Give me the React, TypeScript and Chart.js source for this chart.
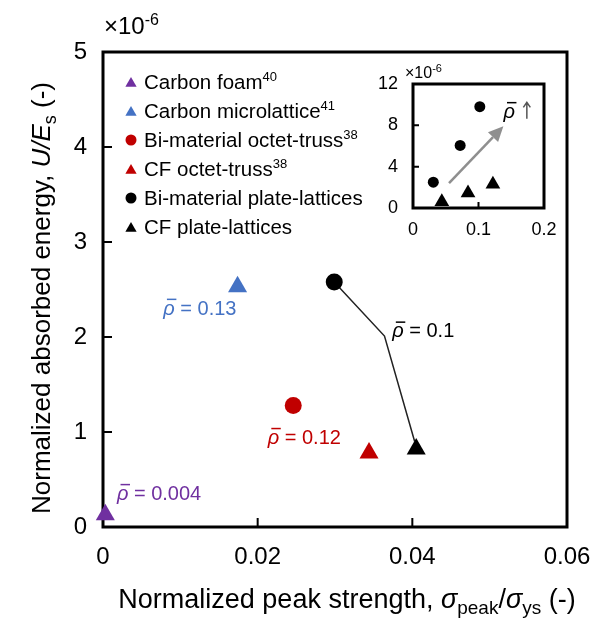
import { useEffect, useRef } from "react";
import { Chart, registerables } from "chart.js";
Chart.register(...registerables);

const FONT = "'Liberation Sans', Arial, 'DejaVu Sans', sans-serif";

// ---- main chart data ----
const SERIES_NAMES = [
  "Carbon foam",
  "Carbon microlattice",
  "Bi-material octet-truss",
  "CF octet-truss",
  "Bi-material plate-lattices",
  "CF plate-lattices",
];
const SERIES_SUPS = ["40", "41", "38", "38", "", ""];
const SERIES_COLORS = ["#7030A0", "#4472C4", "#C00000", "#C00000", "#000000", "#000000"];
const SERIES_STYLES = ["triangle", "triangle", "circle", "triangle", "circle", "triangle"];
const SERIES_X = [0.0003, 0.0174, 0.0246, 0.0344, 0.0299, 0.0405];
const SERIES_Y = [0.13, 2.53, 1.28, 0.78, 2.58, 0.82];

const TREND_X = [0.0299, 0.0364, 0.0403];
const TREND_Y = [2.58, 2.01, 0.9];

const X_TICKS = [0, 0.02, 0.04, 0.06];
const X_TICK_LABELS = ["0", "0.02", "0.04", "0.06"];
const Y_TICKS = [0, 1, 2, 3, 4, 5];
const Y_TICK_LABELS = ["0", "1", "2", "3", "4", "5"];

const NOTE_VALUES = ["0.004", "0.13", "0.12", "0.1"];
const NOTE_X = [0.0018, 0.0078, 0.0213, 0.0374];
const NOTE_Y = [0.36, 2.31, 0.95, 2.07];
const NOTE_COLORS = ["#7030A0", "#4472C4", "#C00000", "#000000"];

// ---- inset data ----
const INSET_CIRCLE_X = [0.031, 0.072, 0.102];
const INSET_CIRCLE_Y = [2.5, 6.06, 9.8];
const INSET_TRI_X = [0.044, 0.084, 0.122];
const INSET_TRI_Y = [0.6, 1.45, 2.3];
const INSET_X_TICKS = [0, 0.1, 0.2];
const INSET_X_TICK_LABELS = ["0", "0.1", "0.2"];
const INSET_Y_TICKS = [0, 4, 8, 12];
const INSET_Y_TICK_LABELS = ["0", "4", "8", "12"];
const ARROW_FROM = [0.055, 2.4];
const ARROW_TO = [0.138, 7.9];
const INSET_NOTE_X = 0.138;
const INSET_NOTE_Y = 9.4;

type Seg = { t: string; sz: number; it?: boolean; dy?: number; bar?: boolean; color?: string };

function segFont(s: Seg) {
  return `${s.it ? "italic " : ""}${s.sz}px ${FONT}`;
}
function richWidth(ctx: CanvasRenderingContext2D, segs: Seg[]) {
  let w = 0;
  for (const s of segs) {
    ctx.font = segFont(s);
    w += ctx.measureText(s.t).width;
  }
  return w;
}
function drawRich(
  ctx: CanvasRenderingContext2D,
  segs: Seg[],
  x: number,
  y: number,
  align: "left" | "center",
  color: string
) {
  let cx = align === "center" ? x - richWidth(ctx, segs) / 2 : x;
  ctx.textAlign = "left";
  ctx.textBaseline = "alphabetic";
  for (const s of segs) {
    ctx.font = segFont(s);
    ctx.fillStyle = s.color || color;
    ctx.fillText(s.t, cx, y + (s.dy || 0));
    const w = ctx.measureText(s.t).width;
    if (s.bar) {
      ctx.save();
      ctx.strokeStyle = s.color || color;
      ctx.lineWidth = 1.5;
      ctx.beginPath();
      const by = y + (s.dy || 0) - 0.76 * s.sz;
      ctx.moveTo(cx + 0.18 * s.sz, by);
      ctx.lineTo(cx + w + 0.08 * s.sz, by);
      ctx.stroke();
      ctx.restore();
    }
    cx += w;
  }
  return cx;
}

function drawMarker(ctx: CanvasRenderingContext2D, style: string, x: number, y: number, r: number, color: string) {
  ctx.fillStyle = color;
  ctx.beginPath();
  if (style === "circle") {
    ctx.arc(x, y, r, 0, Math.PI * 2);
  } else {
    let a = 0;
    ctx.moveTo(x + Math.sin(a) * r, y - Math.cos(a) * r);
    a += (2 * Math.PI) / 3;
    ctx.lineTo(x + Math.sin(a) * r, y - Math.cos(a) * r);
    a += (2 * Math.PI) / 3;
    ctx.lineTo(x + Math.sin(a) * r, y - Math.cos(a) * r);
    ctx.closePath();
  }
  ctx.fill();
}

function boxAndTicks(chart: any, tickLen: number, lw: number) {
  const ctx: CanvasRenderingContext2D = chart.ctx;
  const a = chart.chartArea;
  const xs = chart.scales.x;
  const ys = chart.scales.y;
  ctx.save();
  ctx.strokeStyle = "#000";
  ctx.lineWidth = lw;
  ctx.strokeRect(a.left, a.top, a.right - a.left, a.bottom - a.top);
  ctx.lineWidth = 2;
  ctx.beginPath();
  for (const t of xs.ticks) {
    const px = xs.getPixelForValue(t.value);
    if (Math.abs(px - a.left) < 2 || Math.abs(px - a.right) < 2) continue;
    ctx.moveTo(px, a.bottom);
    ctx.lineTo(px, a.bottom - tickLen);
  }
  for (const t of ys.ticks) {
    const py = ys.getPixelForValue(t.value);
    if (Math.abs(py - a.top) < 2 || Math.abs(py - a.bottom) < 2) continue;
    ctx.moveTo(a.left, py);
    ctx.lineTo(a.left + tickLen, py);
  }
  ctx.stroke();
  ctx.restore();
}

const mainPlugin = {
  id: "mainDecor",
  beforeDatasetsDraw(chart: any) {
    boxAndTicks(chart, 9, 3);
  },
  afterDraw(chart: any) {
    const ctx: CanvasRenderingContext2D = chart.ctx;
    const xs = chart.scales.x;
    const ys = chart.scales.y;
    ctx.save();
    // legend
    for (let i = 0; i < SERIES_NAMES.length; i++) {
      const cy = 82 + 29 * i;
      const style = SERIES_STYLES[i];
      drawMarker(ctx, style, 131, style === "circle" ? cy : cy + 1.5, style === "circle" ? 5.5 : 6.5, SERIES_COLORS[i]);
      const segs: Seg[] = [{ t: SERIES_NAMES[i], sz: 20.5 }];
      if (SERIES_SUPS[i]) segs.push({ t: SERIES_SUPS[i], sz: 13, dy: -8 });
      drawRich(ctx, segs, 144, cy + 7, "left", "#000");
    }
    // density notes
    for (let i = 0; i < NOTE_VALUES.length; i++) {
      const px = xs.getPixelForValue(NOTE_X[i]);
      const py = ys.getPixelForValue(NOTE_Y[i]);
      drawRich(
        ctx,
        [
          { t: "ρ", sz: 20, it: true, bar: true },
          { t: " = " + NOTE_VALUES[i], sz: 20 },
        ],
        px,
        py + 7,
        "left",
        NOTE_COLORS[i]
      );
    }
    // exponent
    drawRich(ctx, [{ t: "×10", sz: 24 }, { t: "-6", sz: 16, dy: -9 }], 104, 34, "left", "#000");
    // x title
    drawRich(
      ctx,
      [
        { t: "Normalized peak strength, ", sz: 27 },
        { t: "σ", sz: 27, it: true },
        { t: "peak", sz: 19, dy: 6 },
        { t: "/", sz: 27 },
        { t: "σ", sz: 27, it: true },
        { t: "ys", sz: 19, dy: 6 },
        { t: " (-)", sz: 27 },
      ],
      347,
      608,
      "center",
      "#000"
    );
    // y title
    ctx.save();
    ctx.translate(50, 298);
    ctx.rotate(-Math.PI / 2);
    drawRich(
      ctx,
      [
        { t: "Normalized absorbed energy, ", sz: 26 },
        { t: "U/E", sz: 26, it: true },
        { t: "s", sz: 18, dy: 6 },
        { t: " (-)", sz: 26 },
      ],
      0,
      0,
      "center",
      "#000"
    );
    ctx.restore();
    ctx.restore();
  },
};

const insetPlugin = {
  id: "insetDecor",
  beforeDatasetsDraw(chart: any) {
    const ctx: CanvasRenderingContext2D = chart.ctx;
    const a = chart.chartArea;
    ctx.save();
    ctx.fillStyle = "#fff";
    ctx.fillRect(a.left, a.top, a.right - a.left, a.bottom - a.top);
    ctx.restore();
    boxAndTicks(chart, 6, 3);
  },
  afterDraw(chart: any) {
    const ctx: CanvasRenderingContext2D = chart.ctx;
    const xs = chart.scales.x;
    const ys = chart.scales.y;
    ctx.save();
    // arrow
    const x1 = xs.getPixelForValue(ARROW_FROM[0]);
    const y1 = ys.getPixelForValue(ARROW_FROM[1]);
    const x2 = xs.getPixelForValue(ARROW_TO[0]);
    const y2 = ys.getPixelForValue(ARROW_TO[1]);
    const ang = Math.atan2(y2 - y1, x2 - x1);
    const head = 15;
    const bx = x2 - Math.cos(ang) * head;
    const by = y2 - Math.sin(ang) * head;
    ctx.strokeStyle = "#8f8f8f";
    ctx.fillStyle = "#8f8f8f";
    ctx.lineWidth = 2.5;
    ctx.beginPath();
    ctx.moveTo(x1, y1);
    ctx.lineTo(bx, by);
    ctx.stroke();
    ctx.beginPath();
    ctx.moveTo(x2, y2);
    ctx.lineTo(bx + Math.sin(ang) * 7, by - Math.cos(ang) * 7);
    ctx.lineTo(bx - Math.sin(ang) * 7, by + Math.cos(ang) * 7);
    ctx.closePath();
    ctx.fill();
    // note: rho-bar with up arrow
    const nx = xs.getPixelForValue(INSET_NOTE_X);
    const ny = ys.getPixelForValue(INSET_NOTE_Y);
    const endX = drawRich(ctx, [{ t: "ρ", sz: 20, it: true, bar: true }], nx, ny + 7, "left", "#000");
    const ax = endX + 12;
    ctx.strokeStyle = "#555";
    ctx.lineWidth = 1.5;
    ctx.beginPath();
    ctx.moveTo(ax, ny + 8);
    ctx.lineTo(ax, ny - 8);
    ctx.moveTo(ax - 3.5, ny - 3.5);
    ctx.lineTo(ax, ny - 8.5);
    ctx.lineTo(ax + 3.5, ny - 3.5);
    ctx.stroke();
    // exponent
    drawRich(ctx, [{ t: "×10", sz: 16 }, { t: "-6", sz: 11, dy: -6 }], 45, 23, "left", "#000");
    ctx.restore();
  },
};

function fixedTicks(values: number[]) {
  return (scale: any) => {
    scale.ticks = values.map((v) => ({ value: v }));
  };
}

export default function App() {
  const mainRef = useRef<HTMLCanvasElement>(null);
  const insetRef = useRef<HTMLCanvasElement>(null);

  useEffect(() => {
    document.body.style.margin = "0";
    const mainDatasets: any[] = SERIES_NAMES.map((name, i) => ({
      type: "scatter",
      label: name,
      data: [{ x: SERIES_X[i], y: SERIES_Y[i] }],
      pointStyle: SERIES_STYLES[i],
      pointRadius: SERIES_STYLES[i] === "circle" ? 8.5 : 11,
      pointBackgroundColor: SERIES_COLORS[i],
      pointBorderWidth: 0,
      pointBorderColor: SERIES_COLORS[i],
      clip: false,
      order: i,
    }));
    mainDatasets.push({
      type: "line",
      label: "trend",
      data: TREND_X.map((x, i) => ({ x, y: TREND_Y[i] })),
      borderColor: "#222",
      borderWidth: 1.5,
      pointRadius: 0,
      fill: false,
      tension: 0,
      clip: false,
      order: 20,
    });

    const main = new Chart(mainRef.current!, {
      type: "scatter",
      data: { datasets: mainDatasets },
      options: {
        responsive: false,
        animation: false,
        events: [],
        layout: { padding: { top: 52, right: 29, left: 0, bottom: 0 } },
        plugins: { legend: { display: false }, tooltip: { enabled: false } },
        scales: {
          x: {
            type: "linear",
            min: 0,
            max: 0.06,
            afterBuildTicks: fixedTicks(X_TICKS),
            afterFit: (s: any) => {
              s.height = 94;
              s.paddingLeft = 0;
              s.paddingRight = 0;
            },
            grid: { display: false, drawTicks: false },
            border: { display: false },
            ticks: {
              padding: 16,
              color: "#000",
              maxRotation: 0,
              autoSkip: false,
              font: { size: 24, family: FONT },
              callback: (_v: any, i: number) => X_TICK_LABELS[i],
            },
          },
          y: {
            type: "linear",
            min: 0,
            max: 5,
            afterBuildTicks: fixedTicks(Y_TICKS),
            afterFit: (s: any) => {
              s.width = 103;
              s.paddingTop = 0;
              s.paddingBottom = 0;
            },
            grid: { display: false, drawTicks: false },
            border: { display: false },
            ticks: {
              padding: 16,
              color: "#000",
              autoSkip: false,
              font: { size: 24, family: FONT },
              callback: (_v: any, i: number) => Y_TICK_LABELS[i],
            },
          },
        },
      },
      plugins: [mainPlugin],
    } as any);

    const insetDatasets: any[] = [
      {
        type: "scatter",
        label: "Bi-material plate-lattices",
        data: INSET_CIRCLE_X.map((x, i) => ({ x, y: INSET_CIRCLE_Y[i] })),
        pointStyle: "circle",
        pointRadius: 5.5,
        pointBackgroundColor: "#000",
        pointBorderWidth: 0,
        clip: false,
      },
      {
        type: "scatter",
        label: "CF plate-lattices",
        data: INSET_TRI_X.map((x, i) => ({ x, y: INSET_TRI_Y[i] })),
        pointStyle: "triangle",
        pointRadius: 8.5,
        pointBackgroundColor: "#000",
        pointBorderWidth: 0,
        clip: false,
      },
    ];

    const inset = new Chart(insetRef.current!, {
      type: "scatter",
      data: { datasets: insetDatasets },
      options: {
        responsive: false,
        animation: false,
        events: [],
        layout: { padding: { top: 29, right: 16, left: 0, bottom: 0 } },
        plugins: { legend: { display: false }, tooltip: { enabled: false } },
        scales: {
          x: {
            type: "linear",
            min: 0,
            max: 0.2,
            afterBuildTicks: fixedTicks(INSET_X_TICKS),
            afterFit: (s: any) => {
              s.height = 37;
              s.paddingLeft = 0;
              s.paddingRight = 0;
            },
            grid: { display: false, drawTicks: false },
            border: { display: false },
            ticks: {
              padding: 11,
              color: "#000",
              maxRotation: 0,
              autoSkip: false,
              font: { size: 18, family: FONT },
              callback: (_v: any, i: number) => INSET_X_TICK_LABELS[i],
            },
          },
          y: {
            type: "linear",
            min: 0,
            max: 12,
            afterBuildTicks: fixedTicks(INSET_Y_TICKS),
            afterFit: (s: any) => {
              s.width = 53;
              s.paddingTop = 0;
              s.paddingBottom = 0;
            },
            grid: { display: false, drawTicks: false },
            border: { display: false },
            ticks: {
              padding: 15,
              color: "#000",
              autoSkip: false,
              font: { size: 18, family: FONT },
              callback: (_v: any, i: number) => INSET_Y_TICK_LABELS[i],
            },
          },
        },
      },
      plugins: [insetPlugin],
    } as any);

    return () => {
      main.destroy();
      inset.destroy();
    };
  }, []);

  return (
    <div style={{ position: "relative", width: 596, height: 621, background: "#fff" }}>
      <canvas ref={mainRef} width={596} height={621} style={{ position: "absolute", left: 0, top: 0 }} />
      <canvas ref={insetRef} width={200} height={190} style={{ position: "absolute", left: 360, top: 55 }} />
    </div>
  );
}
